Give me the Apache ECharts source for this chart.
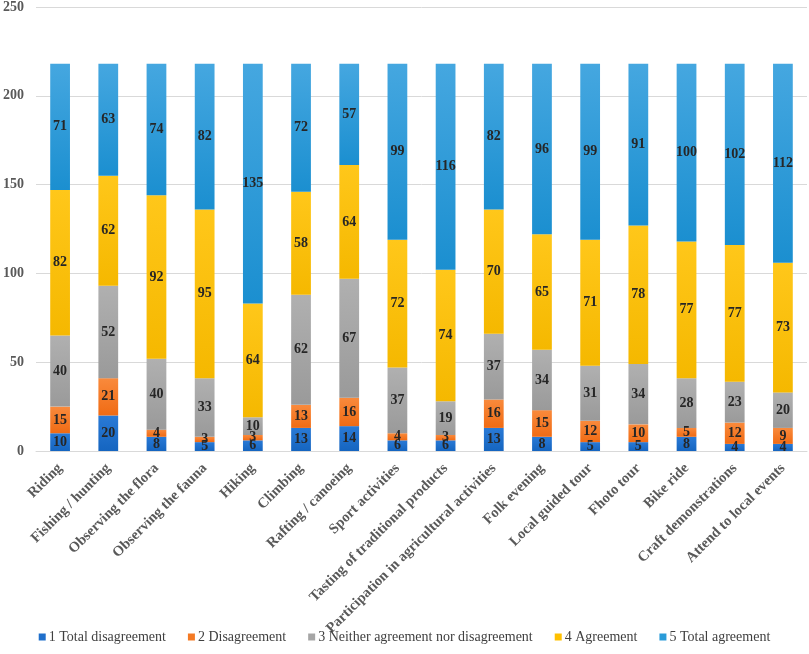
<!DOCTYPE html>
<html>
<head>
<meta charset="utf-8">
<script src="https://cdn.jsdelivr.net/npm/echarts@6/dist/echarts.min.js"></script>
<style>html,body{margin:0;padding:0;background:#fff}#c{width:809px;height:654px}</style>
</head>
<body>
<div id="c"></div>
<script>
const categories = ["Riding","Fishing / hunting","Observing the flora","Observing the fauna","Hiking","Climbing","Rafting / canoeing","Sport activities","Tasting of traditional products","Participation in agricultural activities","Folk evening","Local guided tour","Fhoto tour","Bike ride","Craft demonstrations","Attend to local events"];
const seriesNames = ["1 Total disagreement","2 Disagreement","3 Neither agreement nor disagreement","4 Agreement","5 Total agreement"];
const totalDisagreement = [10,20,8,5,6,13,14,6,6,13,8,5,5,8,4,4];
const disagreement = [15,21,4,3,3,13,16,4,3,16,15,12,10,5,12,9];
const neither = [40,52,40,33,10,62,67,37,19,37,34,31,34,28,23,20];
const agreement = [82,62,92,95,64,58,64,72,74,70,65,71,78,77,77,73];
const totalAgreement = [71,63,74,82,135,72,57,99,116,82,96,99,91,100,102,112];
const yTicks = [0,50,100,150,200,250];

const seriesData = [totalDisagreement, disagreement, neither, agreement, totalAgreement];
const colors = [
  ['#2a7ad6','#1565c0'],
  ['#f98a3c','#f06b14'],
  ['#b0b0b0','#9a9a9a'],
  ['#ffc71a','#f5b800'],
  ['#45a7e0','#1b8fd0']
];
const legendColors = ['#1f6fcb','#f47a24','#a6a6a6','#ffc000','#2a9bd8'];

const chart = echarts.init(document.getElementById('c'));
chart.setOption({
  animation: false,
  textStyle: {fontFamily: 'Liberation Serif'},
  grid: {left: 33, right: 2, top: 7, bottom: 203, containLabel: false},
  legend: {
    bottom: 5, left: 'center',
    itemWidth: 7, itemHeight: 7, itemGap: 22,
    icon: 'rect',
    textStyle: {fontFamily: 'Liberation Serif', fontSize: 14, color: '#404040', padding:[0,0,0,-2]},
    data: seriesNames.map((n,i)=>({name:n, itemStyle:{color:legendColors[i]}}))
  },
  xAxis: {
    type: 'category',
    data: categories,
    axisLine: {lineStyle: {color: '#d9d9d9'}},
    axisTick: {show: false},
    axisLabel: {rotate: 45, interval: 0, fontFamily: 'Liberation Serif', fontWeight: 'bold', fontSize: 14.5, color: '#595959', margin: 15}
  },
  yAxis: {
    type: 'value', min: 0, max: 250, interval: 50,
    splitLine: {lineStyle: {color: '#d9d9d9'}},
    axisLine: {show: false}, axisTick: {show: false},
    axisLabel: {fontFamily: 'Liberation Serif', fontWeight: 'bold', fontSize: 14, color: '#595959', margin: 12,
      formatter: v => yTicks.includes(v) ? String(v) : ''}
  },
  series: seriesData.map((d,i)=>({
    name: seriesNames[i],
    type: 'bar',
    stack: 'total',
    barWidth: '41%',
    data: d,
    itemStyle: {
      color: new echarts.graphic.LinearGradient(0,0,0,1,[{offset:0,color:colors[i][0]},{offset:1,color:colors[i][1]}])
    },
    label: {
      show: true, position: 'inside',
      fontFamily: 'Liberation Serif', fontWeight: 'bold', fontSize: 14, color: '#262626'
    }
  }))
});
</script>
</body>
</html>
